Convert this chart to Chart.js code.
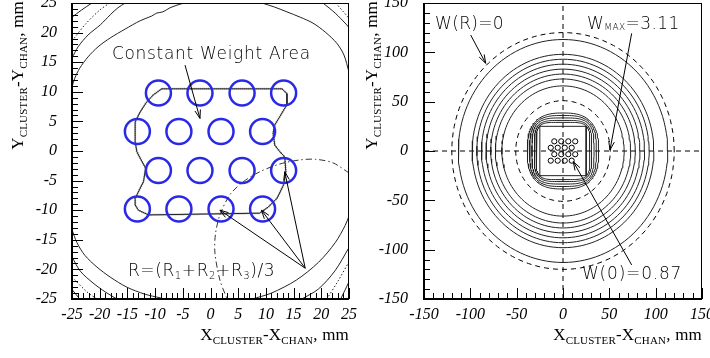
<!DOCTYPE html>
<html><head><meta charset="utf-8">
<script src="https://cdn.jsdelivr.net/npm/chart.js@4.4.1/dist/chart.umd.min.js"></script>
<style>html,body{margin:0;padding:0;background:#fff;}#wrap{position:relative;width:710px;height:358px;overflow:hidden;background:#fff}canvas{position:absolute;left:0;top:0;}</style>
</head><body><div id="wrap"><canvas id="cl" width="710" height="358"></canvas><canvas id="cr" width="710" height="358"></canvas></div>
<script>
// ---------------- DATA ----------------
// tick labels
const leftTicks = [-25,-20,-15,-10,-5,0,5,10,15,20,25];
const rightTicks = [-150,-100,-50,0,50,100,150];
// detector cells (hexagonal pattern), mm
const cellX = [-9.4,-1.9,5.7,13.2, -13.2,-5.7,1.9,9.4, -9.4,-1.9,5.7,13.2, -13.2,-5.7,1.9,9.4];
const cellY = [9.8,9.8,9.8,9.8, 3.3,3.3,3.3,3.3, -3.3,-3.3,-3.3,-3.3, -9.8,-9.8,-9.8,-9.8];
// constant weight area boundary
const areaX = [-8.8,12.9,13.8,13.8,13.2,12.5,11.6,11.3,11.6,12.5,13.4,13.6,13.2,12.0,10.5,8.9,-11.2,-13.0,-13.6,-13.6,-12.7,-12.1,-11.7,-12.7,-13.3,-13.6,-13.6,-12.7,-11.5,-10.3,-8.8];
const areaY = [10.5,10.5,9.7,7.8,6.9,5.8,4.4,3.0,1.0,-0.1,-1.0,-3.5,-5.7,-8.0,-9.4,-10.5,-10.8,-10.0,-9.1,-8.0,-6.3,-5.2,-2.9,-1.2,-0.1,1.6,4.9,6.6,8.3,9.5,10.5];
// left panel contours
const bigTLx = [-25,-24.5,-23.6,-22.1,-20.3,-18.1,-15.4,-12.7,-10.6,-9.7,-8.6,-7.3,-5.5,-4.6];
const bigTLy = [10.8,12.3,14.0,15.9,17.6,19.1,20.6,22.0,22.8,23.3,23.5,24.2,24.8,25.0];
const bigTRx = [9.3,11.6,13.8,16.2,18.5,20.7,22.8,24.1,25];
const bigTRy = [25,24.3,23.5,22.6,21.6,20.1,18.2,16.2,13.3];
const midTLx = [-25,-23.9,-22.1,-19.9,-18.1,-16.7,-15.4];
const midTLy = [15.7,17.6,19.6,21.3,23.0,24.2,25];
const cornTLx = [-25,-23.3,-21.4];
const cornTLy = [22.6,23.8,25];
const dotTLx = [-25,-22.5,-20,-18.2];
const dotTLy = [18.6,21.5,23.8,25];
const solTRx = [20.3,22.5,24.6,25];
const solTRy = [25,23.3,21.3,20.8];
const dotTRx = [22.6,24,25];
const dotTRy = [25,23.5,22.4];
const bigBLx = [-25,-24.1,-22.7,-20.5,-18.1,-15.1,-11.8,-9.1,-8.2];
const bigBLy = [-13.3,-15.5,-17.6,-19.6,-21.3,-23.0,-24.2,-24.8,-25];
const bigBRx = [7.5,11,15.5,19.5,22.5,24.3,25];
const bigBRy = [-25,-24,-21.8,-18.8,-15.5,-12.6,-11];
const midBLx = [-25,-23.5,-21.2,-19,-16.9];
const midBLy = [-17.9,-20.3,-22.3,-23.8,-25];
const dotBLx = [-25,-22.3,-20.5];
const dotBLy = [-21.3,-23.8,-25];
const cornBLx = [-25,-23.6];
const cornBLy = [-23.4,-25];
const midBRx = [25,22.5,19.5,16.5];
const midBRy = [-16.3,-20.2,-23.3,-25];
const dotBRx = [25,23,21];
const dotBRy = [-18.7,-22,-25];
const cornBRx = [25,23.5];
const cornBRy = [-22.1,-25];
// circle of mean distance R (dash-dot)
const arcX = [25,22.1,19,16.2,12.5,8.9,5.9,3.5,1.7,0.9,0.8,1.7,3.0];
const arcY = [-3.7,-2.0,-1.4,-1.5,-2.2,-3.5,-5.2,-7.4,-10.8,-14,-17.2,-21.8,-25];
// right panel contour levels (radii / half sizes, mm)
const solidRadii = [113,98,93,88,83,78,73,66];
const dashedRadii = [120,51];
const squircleHalf = [38.5,36,33.5,31,29];
const squircleExp = [2.7,3.1,3.6,4.2,5];
const squareHalf = 25;
const crossHx = [-150,150], crossHy = [0,0];
const crossVx = [0,0], crossVy = [-150,150];

// ---------------- HELPERS ----------------
function pts(xs, ys){ return xs.map((x,i)=>({x:x,y:ys[i]})); }
function line(xs, ys, o){
  return Object.assign({showLine:true,pointRadius:0,pointHoverRadius:0,borderWidth:1,borderColor:'#222',fill:false,tension:0.3,data:pts(xs,ys)}, o||{});
}
function circleData(r){ const a=[]; for(let i=0;i<=120;i++){const t=i/120*2*Math.PI;a.push({x:r*Math.cos(t),y:r*Math.sin(t)});} return a; }
function squircleData(h,n){ const a=[]; for(let i=0;i<=160;i++){const t=i/160*2*Math.PI;const c=Math.cos(t),s=Math.sin(t);a.push({x:h*Math.sign(c)*Math.pow(Math.abs(c),2/n),y:h*Math.sign(s)*Math.pow(Math.abs(s),2/n)});} return a; }

function rich(ctx, parts, x, y, align, family, style, spacing){
  ctx.letterSpacing = (spacing||0)+'px';
  let w=0; const ws=[];
  parts.forEach(p=>{ctx.font=(style||'')+' '+p[1]+'px '+family; const m=ctx.measureText(p[0]).width; ws.push(m); w+=m;});
  let cx = align==='right'? x-w : (align==='center'? x-w/2 : x);
  ctx.textAlign='left'; ctx.textBaseline='alphabetic'; ctx.fillStyle='#000';
  parts.forEach((p,i)=>{ctx.font=(style||'')+' '+p[1]+'px '+family; ctx.fillText(p[0], cx, y+(p[2]||0)); cx+=ws[i];});
  ctx.letterSpacing='0px';
}
function arrow(ctx, x1,y1,x2,y2){
  ctx.beginPath(); ctx.moveTo(x1,y1); ctx.lineTo(x2,y2); ctx.stroke();
  const a=Math.atan2(y2-y1,x2-x1), L=9, h=0.32;
  ctx.beginPath();
  ctx.moveTo(x2-L*Math.cos(a-h), y2-L*Math.sin(a-h)); ctx.lineTo(x2,y2); ctx.lineTo(x2-L*Math.cos(a+h), y2-L*Math.sin(a+h));
  ctx.stroke();
}
const SERIF = '"Liberation Serif", "Times New Roman", serif';
const SANS = '"DejaVu Sans", sans-serif';

function decor(cfg){
  return {
    id:'decor',
    afterDatasetsDraw(chart){
      const ctx=chart.ctx, a=chart.chartArea, xs=chart.scales.x, ys=chart.scales.y;
      ctx.save();
      ctx.strokeStyle='#000'; ctx.lineWidth=1; ctx.setLineDash([]);
      ctx.strokeRect(a.left+0.5,a.top+0.5,a.right-a.left-1,a.bottom-a.top-1);
      ctx.lineWidth=2;
      ctx.beginPath(); ctx.moveTo(a.left,a.top); ctx.lineTo(a.left,a.bottom); ctx.lineTo(a.right,a.bottom); ctx.stroke();
      ctx.lineWidth=1;
      for(let v=cfg.min; v<=cfg.max+1e-9; v+=cfg.minor){
        const major = Math.abs(Math.round(v/cfg.major)*cfg.major - v) < 1e-6;
        const len = major?11:6;
        const px=Math.round(xs.getPixelForValue(v))+0.5;
        ctx.beginPath(); ctx.moveTo(px,a.bottom); ctx.lineTo(px,a.bottom-len); ctx.stroke();
        const py=Math.round(ys.getPixelForValue(v))+0.5;
        ctx.beginPath(); ctx.moveTo(a.left,py); ctx.lineTo(a.left+len,py); ctx.stroke();
      }
      ctx.strokeStyle='#000'; ctx.lineWidth=1;
      cfg.arrows.forEach(r=>arrow(ctx, xs.getPixelForValue(r[0]), ys.getPixelForValue(r[1]), xs.getPixelForValue(r[2]), ys.getPixelForValue(r[3])));
      cfg.texts.forEach(t=>rich(ctx, t.parts, xs.getPixelForValue(t.x), ys.getPixelForValue(t.y), 'left', SANS, '300', t.sp));
      ctx.restore();
    },
    afterDraw(chart){
      const ctx=chart.ctx, a=chart.chartArea;
      ctx.save();
      const xt=[['X',17,0],['CLUSTER',11,4],['-X',17,0],['CHAN',11,4],[', mm',17,0]];
      const yt=[['Y',17,0],['CLUSTER',11,4],['-Y',17,0],['CHAN',11,4],[', mm',17,0]];
      rich(ctx, xt, a.right, 340, 'right', SERIF, '', 0.2);
      ctx.translate(cfg.yTitleX, 1); ctx.rotate(-Math.PI/2);
      rich(ctx, yt, 0, 0, 'right', SERIF, '', 0.2);
      ctx.restore();
    }
  };
}
function scaleOpts(min,max,ticksArr,axis,fitSize,pad){
  return {
    type:'linear', min:min, max:max,
    grid:{display:false, drawTicks:false}, border:{display:false},
    afterBuildTicks(s){ s.ticks = ticksArr.map(v=>({value:v})); },
    afterFit(s){
      if(axis==='x') s.height=fitSize; else s.width=fitSize;
      s.paddingTop=0; s.paddingBottom=0; s.paddingLeft=0; s.paddingRight=0;
    },
    ticks:{color:'#000', padding:pad, autoSkip:false, maxRotation:0, font:{family:'"Liberation Serif"', size:16, style:'italic'}}
  };
}

// ---------------- LEFT CHART ----------------
const dots = {borderDash:[1.5,2]};
const leftDatasets = [
  line(bigTLx,bigTLy), line(bigTRx,bigTRy), line(midTLx,midTLy), line(cornTLx,cornTLy),
  line(dotTLx,dotTLy,dots), line(solTRx,solTRy), line(dotTRx,dotTRy,dots),
  line(bigBLx,bigBLy), line(bigBRx,bigBRy), line(midBLx,midBLy), line(dotBLx,dotBLy,dots),
  line(cornBLx,cornBLy), line(midBRx,midBRy), line(dotBRx,dotBRy,dots), line(cornBRx,cornBRy),
  line(arcX,arcY,{borderDash:[6,3,1.5,3],borderColor:'#333'}),
  {showLine:false,data:pts(cellX,cellY),pointRadius:12.5,pointBorderWidth:2.5,pointBorderColor:'#2a2ae6',pointBackgroundColor:'rgba(0,0,0,0)',pointHoverRadius:12.5},
  line(areaX,areaY,{tension:0,borderColor:'#222',borderWidth:1}),
  line(areaX,areaY,{tension:0,borderColor:'#8a8a8a',borderWidth:2,borderDash:[1,1]})
];
new Chart(document.getElementById('cl'),{
  type:'scatter',
  data:{datasets:leftDatasets},
  options:{
    responsive:false, animation:false, events:[],
    layout:{autoPadding:false,padding:{left:0,top:3,right:361,bottom:0}},
    plugins:{legend:{display:false},tooltip:{enabled:false}},
    scales:{x:scaleOpts(-25,25,leftTicks,'x',59,6), y:scaleOpts(-25,25,leftTicks,'y',72,15)}
  },
  plugins:[decor({min:-25,max:25,minor:1,major:5,yTitleX:23,
    arrows:[[-4.6,14.5,-1.9,5.5],[17.1,-19.8,1.7,-10.0],[17.1,-19.8,9.2,-10.0],[17.1,-19.8,13.4,-3.5]],
    texts:[{x:-17.8,y:15.5,sp:0.7,parts:[['Constant Weight Area',17,0]]},
           {x:-14.9,y:-21.1,sp:0.6,parts:[['R=(R',17,0],['1',10,3],['+R',17,0],['2',10,3],['+R',17,0],['3',10,3],[')/3',17,0]]}]
  })]
});

// ---------------- RIGHT CHART ----------------
const rightDatasets = [];
solidRadii.forEach(r=>rightDatasets.push({showLine:true,pointRadius:0,borderWidth:1,borderColor:'#222',tension:0,data:circleData(r)}));
dashedRadii.forEach(r=>rightDatasets.push({showLine:true,pointRadius:0,borderWidth:1,borderColor:'#000',borderDash:[5,4],tension:0,data:circleData(r)}));
squircleHalf.forEach((h,i)=>rightDatasets.push({showLine:true,pointRadius:0,borderWidth:1,borderColor:'#222',tension:0,data:squircleData(h,squircleExp[i])}));
rightDatasets.push(line([-squareHalf,squareHalf,squareHalf,-squareHalf,-squareHalf],[squareHalf,squareHalf,-squareHalf,-squareHalf,squareHalf],{tension:0}));
rightDatasets.push(line(crossHx,crossHy,{tension:0,borderDash:[5,4],borderColor:'#000'}));
rightDatasets.push(line(crossVx,crossVy,{tension:0,borderDash:[5,4],borderColor:'#000'}));
rightDatasets.push({showLine:false,data:pts(cellX,cellY),pointRadius:2.6,pointBorderWidth:1,pointBorderColor:'#000',pointBackgroundColor:'#fff',pointHoverRadius:2.6});
new Chart(document.getElementById('cr'),{
  type:'scatter',
  data:{datasets:rightDatasets},
  options:{
    responsive:false, animation:false, events:[],
    layout:{autoPadding:false,padding:{left:355,top:3,right:8,bottom:0}},
    plugins:{legend:{display:false},tooltip:{enabled:false}},
    scales:{x:scaleOpts(-150,150,rightTicks,'x',59,6), y:scaleOpts(-150,150,rightTicks,'y',69,16)}
  },
  plugins:[decor({min:-150,max:150,minor:10,major:50,yTitleX:377,
    arrows:[[-99.6,117.5,-83.4,88.9],[74.1,119.2,50.7,1],[74.1,-115.5,11.1,-10.8]],
    texts:[{x:-138,y:123.6,sp:0.3,parts:[['W(R)=0',17,0]]},
           {x:26,y:123.6,sp:0.4,parts:[['W',17,0],['MAX',9,1],['=3.11',17,0]]},
           {x:20.5,y:-129.7,sp:0.8,parts:[['W(0)=0.87',17,0]]}]
  })]
});
</script></body></html>
